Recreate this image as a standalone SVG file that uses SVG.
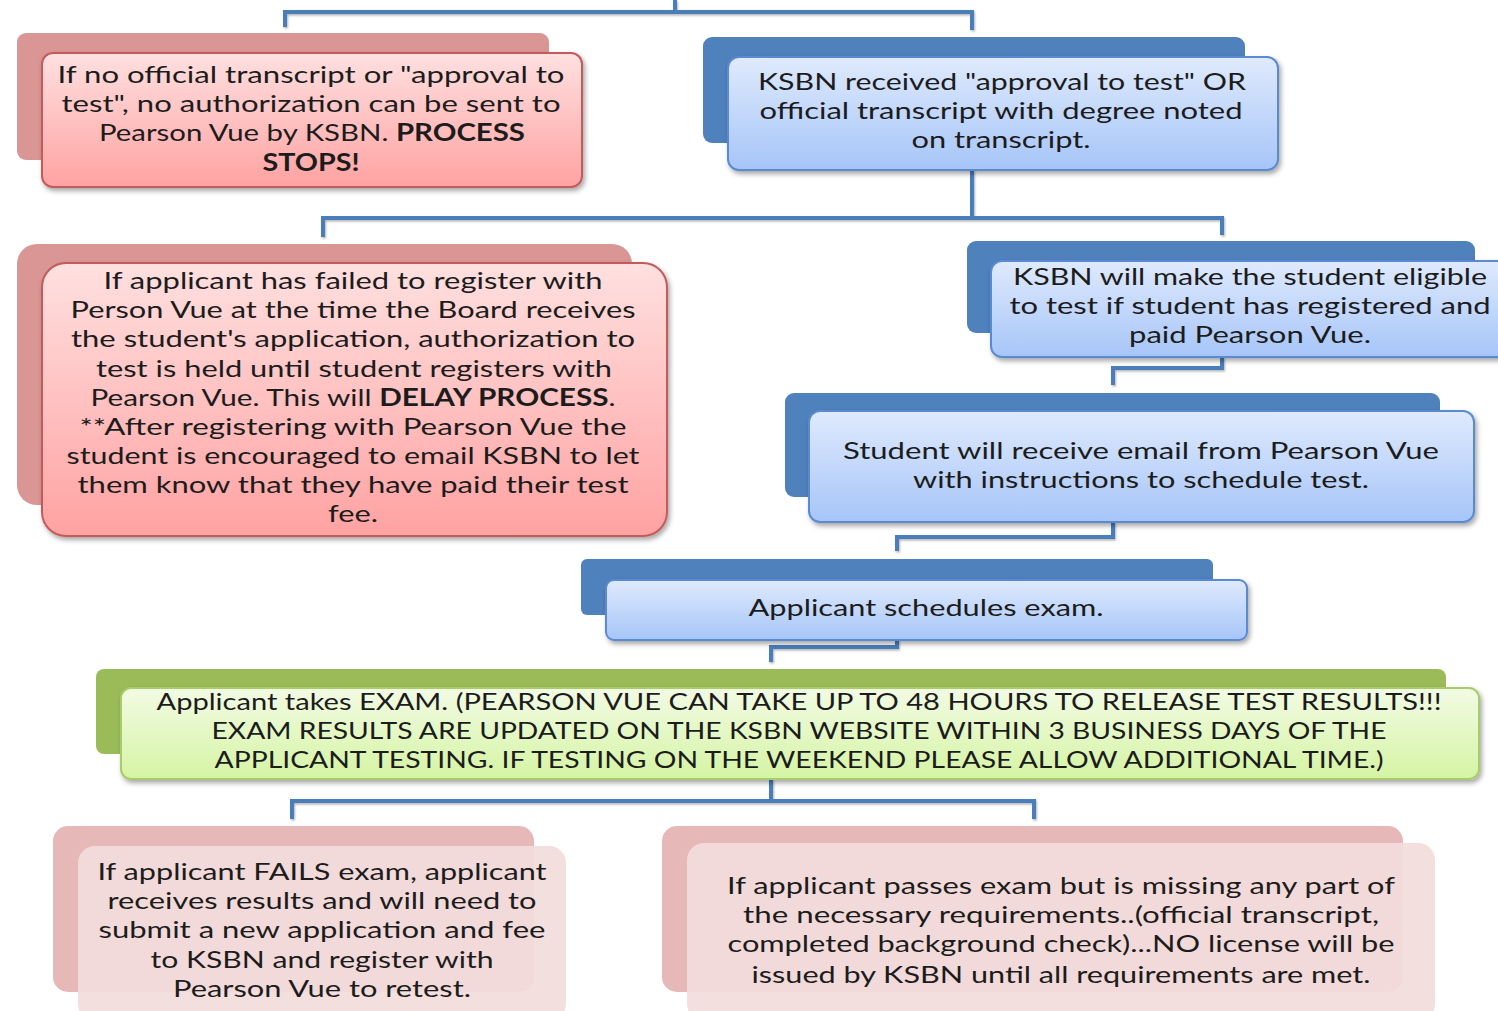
<svg xmlns="http://www.w3.org/2000/svg" width="1498" height="1011" viewBox="0 0 1498 1011">
<defs>
<linearGradient id="gRed" x1="0" y1="0" x2="0" y2="1"><stop offset="0" stop-color="#ffe0e0"/><stop offset="1" stop-color="#ffa2a2"/></linearGradient>
<linearGradient id="gBlue" x1="0" y1="0" x2="0" y2="1"><stop offset="0" stop-color="#dfeafd"/><stop offset="1" stop-color="#a6c5f8"/></linearGradient>
<linearGradient id="gGreen" x1="0" y1="0" x2="0" y2="1"><stop offset="0" stop-color="#f2fbe4"/><stop offset="1" stop-color="#d5f4a4"/></linearGradient>
<filter id="sh" x="-5%" y="-10%" width="115%" height="130%"><feDropShadow dx="2" dy="3" stdDeviation="2.5" flood-color="#000" flood-opacity="0.35"/></filter>
<filter id="lsh" x="-5%" y="-50%" width="110%" height="200%"><feDropShadow dx="1" dy="1.5" stdDeviation="1" flood-color="#000" flood-opacity="0.3"/></filter>
</defs>
<style>
.t{font-family:Lato,"Open Sans","DejaVu Sans",sans-serif;font-size:24px;fill:#1c1c1c;text-anchor:middle}
.b{font-weight:bold}
.conn{fill:none;stroke:#4a7ebb;stroke-width:4;stroke-linejoin:miter}
.redBack{fill:#d99694}
.redFront{fill:url(#gRed);stroke:#c55a5a;stroke-width:2}
.blueBack{fill:#4f81bd}
.blueFront{fill:url(#gBlue);stroke:#5a8ad2;stroke-width:2}
.greenBack{fill:#9bbb59}
.greenFront{fill:url(#gGreen);stroke:#a9cc6a;stroke-width:2}
.pinkBack{fill:#e6b8b7}
.pinkFront{fill:#f2dcdb;fill-opacity:0.92}
</style>

<g id="connectors" filter="url(#lsh)">
<path class="conn" d="M675,0 V12 M285,27 V12 H972 V30"/>
<path class="conn" d="M972,170 V218 M323,237 V218 H1222 V235"/>
<path class="conn" d="M1222,357 V368 H1113 V385"/>
<path class="conn" d="M1113,522 V537 H897 V551"/>
<path class="conn" d="M897,640 V647 H771 V662"/>
<path class="conn" d="M771,779 V801 M292,819 V801 H1034 V819"/>
</g>

<g id="node-no-transcript">
<rect class="redBack" x="17" y="33" width="532" height="127" rx="9"/>
<rect class="redFront" x="42" y="53" width="540" height="134" rx="11" filter="url(#sh)"/>
<text class="t" x="311" y="83" textLength="507" lengthAdjust="spacingAndGlyphs">If no official transcript or "approval to</text>
<text class="t" x="311" y="112" textLength="499" lengthAdjust="spacingAndGlyphs">test", no authorization can be sent to</text>
<text class="t" x="312" y="141" textLength="426" lengthAdjust="spacingAndGlyphs">Pearson Vue by KSBN. <tspan class="b">PROCESS</tspan></text>
<text class="t b" x="311" y="171" textLength="97" lengthAdjust="spacingAndGlyphs">STOPS!</text>
</g>

<g id="node-ksbn-received">
<rect class="blueBack" x="703" y="37" width="542" height="106" rx="9"/>
<rect class="blueFront" x="728" y="57" width="550" height="113" rx="11" filter="url(#sh)"/>
<text class="t" x="1002" y="90" textLength="488" lengthAdjust="spacingAndGlyphs">KSBN received "approval to test" OR</text>
<text class="t" x="1001" y="119" textLength="483" lengthAdjust="spacingAndGlyphs">official transcript with degree noted</text>
<text class="t" x="1001" y="148" textLength="179" lengthAdjust="spacingAndGlyphs">on transcript.</text>
</g>

<g id="node-failed-register">
<rect class="redBack" x="17" y="244" width="615" height="261" rx="20"/>
<rect class="redFront" x="42" y="263" width="625" height="273" rx="24" filter="url(#sh)"/>
<text class="t" x="353" y="289" textLength="499" lengthAdjust="spacingAndGlyphs">If applicant has failed to register with</text>
<text class="t" x="353" y="318" textLength="565" lengthAdjust="spacingAndGlyphs">Person Vue at the time the Board receives</text>
<text class="t" x="353" y="347" textLength="564" lengthAdjust="spacingAndGlyphs">the student's application, authorization to</text>
<text class="t" x="354" y="377" textLength="516" lengthAdjust="spacingAndGlyphs">test is held until student registers with</text>
<text class="t" x="353" y="406" textLength="525" lengthAdjust="spacingAndGlyphs">Pearson Vue. This will <tspan class="b">DELAY PROCESS</tspan>.</text>
<text class="t" x="353" y="435" textLength="547" lengthAdjust="spacingAndGlyphs">**After registering with Pearson Vue the</text>
<text class="t" x="353" y="464" textLength="573" lengthAdjust="spacingAndGlyphs">student is encouraged to email KSBN to let</text>
<text class="t" x="353" y="493" textLength="551" lengthAdjust="spacingAndGlyphs">them know that they have paid their test</text>
<text class="t" x="353" y="522" textLength="50" lengthAdjust="spacingAndGlyphs">fee.</text>
</g>

<g id="node-make-eligible">
<rect class="blueBack" x="967" y="241" width="508" height="92" rx="9"/>
<rect class="blueFront" x="991" y="261" width="520" height="96" rx="11" filter="url(#sh)"/>
<text class="t" x="1250" y="285" textLength="474" lengthAdjust="spacingAndGlyphs">KSBN will make the student eligible</text>
<text class="t" x="1250" y="314" textLength="481" lengthAdjust="spacingAndGlyphs">to test if student has registered and</text>
<text class="t" x="1250" y="343" textLength="242" lengthAdjust="spacingAndGlyphs">paid Pearson Vue.</text>
</g>

<g id="node-receive-email">
<rect class="blueBack" x="785" y="393" width="655" height="104" rx="9"/>
<rect class="blueFront" x="809" y="411" width="665" height="111" rx="11" filter="url(#sh)"/>
<text class="t" x="1141" y="459" textLength="596" lengthAdjust="spacingAndGlyphs">Student will receive email from Pearson Vue</text>
<text class="t" x="1141" y="488" textLength="456" lengthAdjust="spacingAndGlyphs">with instructions to schedule test.</text>
</g>

<g id="node-schedules">
<rect class="blueBack" x="581" y="559" width="632" height="56" rx="6"/>
<rect class="blueFront" x="606" y="580" width="641" height="60" rx="8" filter="url(#sh)"/>
<text class="t" x="926" y="616" textLength="355" lengthAdjust="spacingAndGlyphs">Applicant schedules exam.</text>
</g>

<g id="node-takes-exam">
<rect class="greenBack" x="96" y="669" width="1350" height="85" rx="8"/>
<rect class="greenFront" x="121" y="688" width="1358" height="91" rx="10" filter="url(#sh)"/>
<text class="t" x="799" y="710" textLength="1285" lengthAdjust="spacingAndGlyphs">Applicant takes EXAM. (PEARSON VUE CAN TAKE UP TO 48 HOURS TO RELEASE TEST RESULTS!!!</text>
<text class="t" x="799" y="739" textLength="1175" lengthAdjust="spacingAndGlyphs">EXAM RESULTS ARE UPDATED ON THE KSBN WEBSITE WITHIN 3 BUSINESS DAYS OF THE</text>
<text class="t" x="799" y="768" textLength="1169" lengthAdjust="spacingAndGlyphs">APPLICANT TESTING. IF TESTING ON THE WEEKEND PLEASE ALLOW ADDITIONAL TIME.)</text>
</g>

<g id="node-fails">
<rect class="pinkBack" x="53" y="826" width="481" height="166" rx="15"/>
<rect class="pinkFront" x="78" y="846" width="488" height="175" rx="17"/>
<text class="t" x="322" y="880" textLength="449" lengthAdjust="spacingAndGlyphs">If applicant FAILS exam, applicant</text>
<text class="t" x="322" y="909" textLength="429" lengthAdjust="spacingAndGlyphs">receives results and will need to</text>
<text class="t" x="322" y="938" textLength="447" lengthAdjust="spacingAndGlyphs">submit a new application and fee</text>
<text class="t" x="322" y="968" textLength="343" lengthAdjust="spacingAndGlyphs">to KSBN and register with</text>
<text class="t" x="322" y="997" textLength="298" lengthAdjust="spacingAndGlyphs">Pearson Vue to retest.</text>
</g>

<g id="node-passes">
<rect class="pinkBack" x="662" y="826" width="741" height="166" rx="15"/>
<rect class="pinkFront" x="687" y="843" width="748" height="178" rx="17"/>
<text class="t" x="1061" y="894" textLength="668" lengthAdjust="spacingAndGlyphs">If applicant passes exam but is missing any part of</text>
<text class="t" x="1061" y="923" textLength="636" lengthAdjust="spacingAndGlyphs">the necessary requirements..(official transcript,</text>
<text class="t" x="1061" y="952" textLength="667" lengthAdjust="spacingAndGlyphs">completed background check)...NO license will be</text>
<text class="t" x="1061" y="983" textLength="619" lengthAdjust="spacingAndGlyphs">issued by KSBN until all requirements are met.</text>
</g>
</svg>
